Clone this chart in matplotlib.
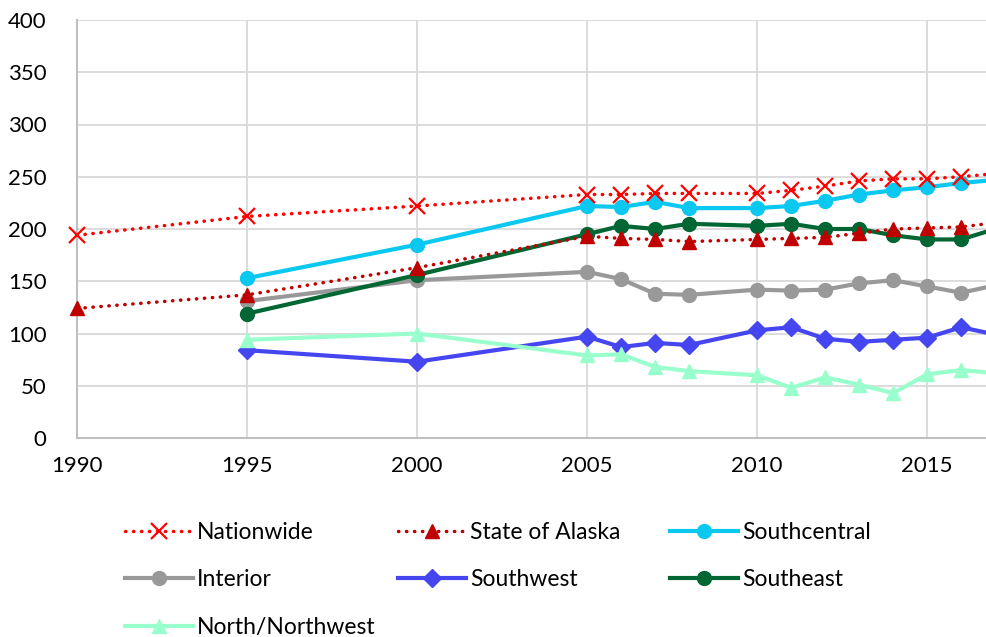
import numpy as np
import matplotlib.pyplot as plt
import matplotlib as mpl

mpl.rcParams['font.family'] = ['Lato', 'DejaVu Sans']

# данные
years_nat = [1990, 1995, 2000, 2005, 2006, 2007, 2008, 2010, 2011, 2012, 2013, 2014, 2015, 2016, 2017]
nationwide = [194, 212, 222, 233, 233, 234, 234, 234, 237, 241, 246, 248, 248, 250, 253]
alaska = [124, 137, 163, 193, 191, 190, 188, 190, 191, 192, 196, 200, 201, 202, 206]

years = [1995, 2000, 2005, 2006, 2007, 2008, 2010, 2011, 2012, 2013, 2014, 2015, 2016, 2017]
southcentral = [153, 185, 222, 221, 226, 220, 220, 222, 227, 233, 237, 240, 244, 247]
interior = [131, 151, 159, 152, 138, 137, 142, 141, 142, 148, 151, 145, 139, 146]
southwest = [84, 73, 97, 87, 91, 89, 103, 106, 95, 92, 94, 96, 106, 99]
southeast = [119, 156, 195, 203, 200, 205, 203, 205, 200, 200, 194, 190, 190, 200]
north_nw = [94, 100, 79, 80, 68, 64, 60, 48, 58, 51, 43, 61, 65, 62]

fig = plt.figure(figsize=(9.86, 6.37), dpi=100)
ax = fig.add_axes([77/986, 1-438/637, 1-77/986, 418/637])

ax.plot(years_nat, nationwide, color='#FF0000', ls=(0, (0.1, 2.2)), lw=2.5, dash_capstyle='round',
        marker='x', ms=11, mew=1.6, label='Nationwide', clip_on=False, zorder=3)
ax.plot(years_nat, alaska, color='#C00000', ls=(0, (0.1, 2.2)), lw=2.5, dash_capstyle='round',
        marker='^', ms=10, label='State of Alaska', clip_on=False, zorder=3)
ax.plot(years, southcentral, color='#0BC8F0', lw=3, marker='o', ms=10, label='Southcentral', clip_on=False)
ax.plot(years, interior, color='#999999', lw=3, marker='o', ms=10, label='Interior', clip_on=False)
ax.plot(years, southwest, color='#4646F0', lw=3, marker='D', ms=9, label='Southwest', clip_on=False)
ax.plot(years, southeast, color='#006633', lw=3, marker='o', ms=10, label='Southeast', clip_on=False)
ax.plot(years, north_nw, color='#99FFCC', lw=3, marker='^', ms=10, label='North/Northwest', clip_on=False)

ax.set_xlim(1990, 2016.73)
ax.set_ylim(0, 400)
ax.set_xticks(range(1990, 2016, 5))
ax.set_yticks(range(0, 401, 50))
ax.grid(True, color='#D9D9D9', lw=1.3)
ax.set_axisbelow(True)
for s in ['top', 'right']:
    ax.spines[s].set_visible(False)
ax.spines['left'].set_color('#BFBFBF')
ax.spines['bottom'].set_color('#BFBFBF')
ax.spines['left'].set_linewidth(1.5)
ax.spines['bottom'].set_linewidth(1.5)
ax.tick_params(length=0, labelsize=16, pad=13)
ax.tick_params(axis='y', pad=22)

# легенда: три колонки одинаковой ширины
h, l = ax.get_legend_handles_labels()
cols = [[0, 3, 6], [1, 4], [2, 5]]
xs = [104, 377, 649]
for c, x0 in zip(cols, xs):
    fig.legend([h[i] for i in c], [l[i] for i in c], loc='upper left',
               bbox_to_anchor=(x0/986, 1-501/637), frameon=False, fontsize=16.5,
               handlelength=3.0, labelspacing=1.17, handletextpad=0.15)

fig.savefig('out.png', dpi=100)
